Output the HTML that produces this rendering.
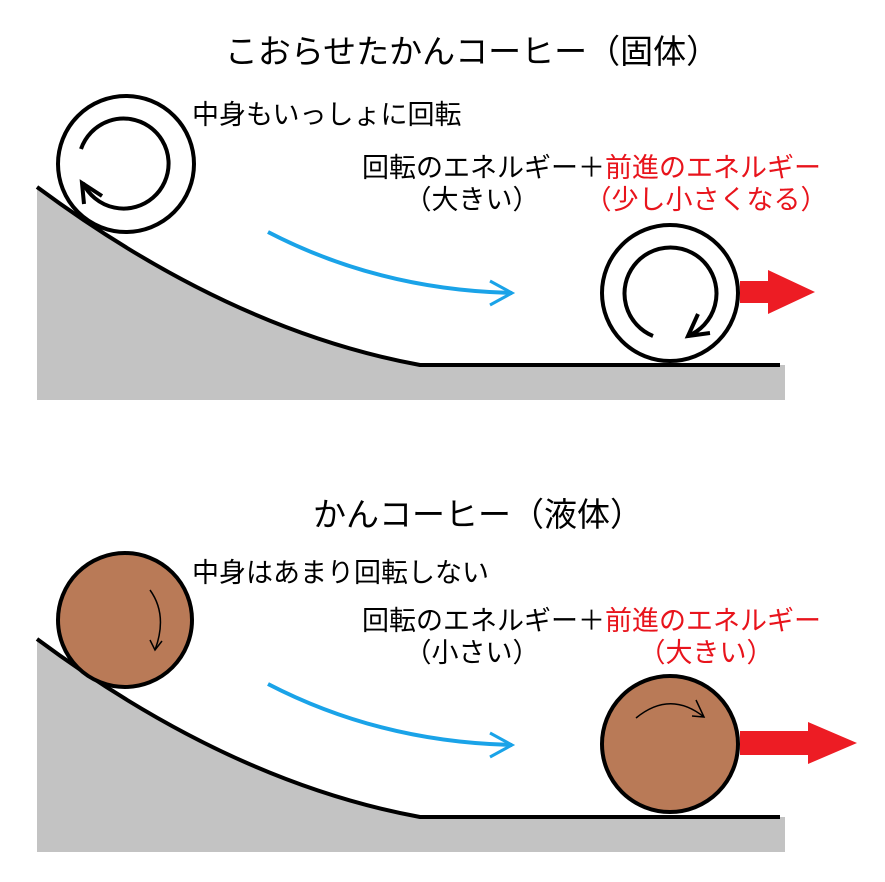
<!DOCTYPE html>
<html><head><meta charset="utf-8"><style>
html,body{margin:0;padding:0;background:#fff;}
svg{display:block;}
text{font-family:"Liberation Sans","Noto Sans CJK JP",sans-serif;}
</style></head><body>
<svg width="885" height="882" viewBox="0 0 885 882" xmlns="http://www.w3.org/2000/svg">
<defs>
<g id="ground">
  <path d="M37,187 Q230,330 420,365 L785,365 L785,400 L37,400 Z" fill="#c3c3c3"/>
  <path d="M37,187 Q230,330 420,365 L780,365" fill="none" stroke="#000" stroke-width="4"/>
  <path d="M268,232 Q380,290 512,293" fill="none" stroke="#1aa3e8" stroke-width="4"/>
  <path d="M490,281 L512,293 L490,305" fill="none" stroke="#1aa3e8" stroke-width="3"/>
</g>
</defs>

<use href="#ground"/>
<use href="#ground" y="452"/>

<!-- top scene -->
<text x="472" y="63" font-size="33" text-anchor="middle">こおらせたかんコーヒー（固体）</text>
<text x="192" y="124" font-size="27">中身もいっしょに回転</text>
<text x="362" y="177" font-size="27">回転のエネルギー＋<tspan fill="#e8141c">前進のエネルギー</tspan></text>
<text x="472" y="209" font-size="27" text-anchor="middle">（大きい）</text>
<text x="706" y="209" font-size="27" text-anchor="middle" fill="#e8141c">（少し小さくなる）</text>

<circle cx="126" cy="164" r="68" fill="#fff" stroke="#000" stroke-width="4"/>
<path d="M81,149 A45,45 0 1 1 83,183" fill="none" stroke="#000" stroke-width="4"/>
<path d="M84,204 L82,183 L102,196" fill="none" stroke="#000" stroke-width="4"/>

<circle cx="670" cy="293" r="68" fill="#fff" stroke="#000" stroke-width="4"/>
<path d="M653,336 A46,46 0 1 1 688,336" fill="none" stroke="#000" stroke-width="4"/>
<path d="M698,314 L688,336 L710,333" fill="none" stroke="#000" stroke-width="4"/>
<path d="M740,281 L768,281 L768,270 L815,292 L768,314 L768,303 L740,303 Z" fill="#ed1c24"/>

<!-- bottom scene -->
<text x="478" y="526" font-size="33" text-anchor="middle">かんコーヒー（液体）</text>
<text x="192" y="582" font-size="27">中身はあまり回転しない</text>
<text x="362" y="630" font-size="27">回転のエネルギー＋<tspan fill="#e8141c">前進のエネルギー</tspan></text>
<text x="472" y="662" font-size="27" text-anchor="middle">（小さい）</text>
<text x="706" y="662" font-size="27" text-anchor="middle" fill="#e8141c">（大きい）</text>

<circle cx="125" cy="620" r="67" fill="#b97a57" stroke="#000" stroke-width="4"/>
<path d="M150,590 Q168,615 155,650" fill="none" stroke="#000" stroke-width="1.5"/>
<path d="M150,640 L155,650 L162,641" fill="none" stroke="#000" stroke-width="1.5"/>

<circle cx="670" cy="744" r="68" fill="#b97a57" stroke="#000" stroke-width="4"/>
<path d="M636,718 Q670,690 704,717" fill="none" stroke="#000" stroke-width="1.5"/>
<path d="M696,700 L704,717 L692,716" fill="none" stroke="#000" stroke-width="1.5"/>
<path d="M740,731 L808,731 L808,722 L857,743 L808,764 L808,755 L740,755 Z" fill="#ed1c24"/>
</svg>
</body></html>
